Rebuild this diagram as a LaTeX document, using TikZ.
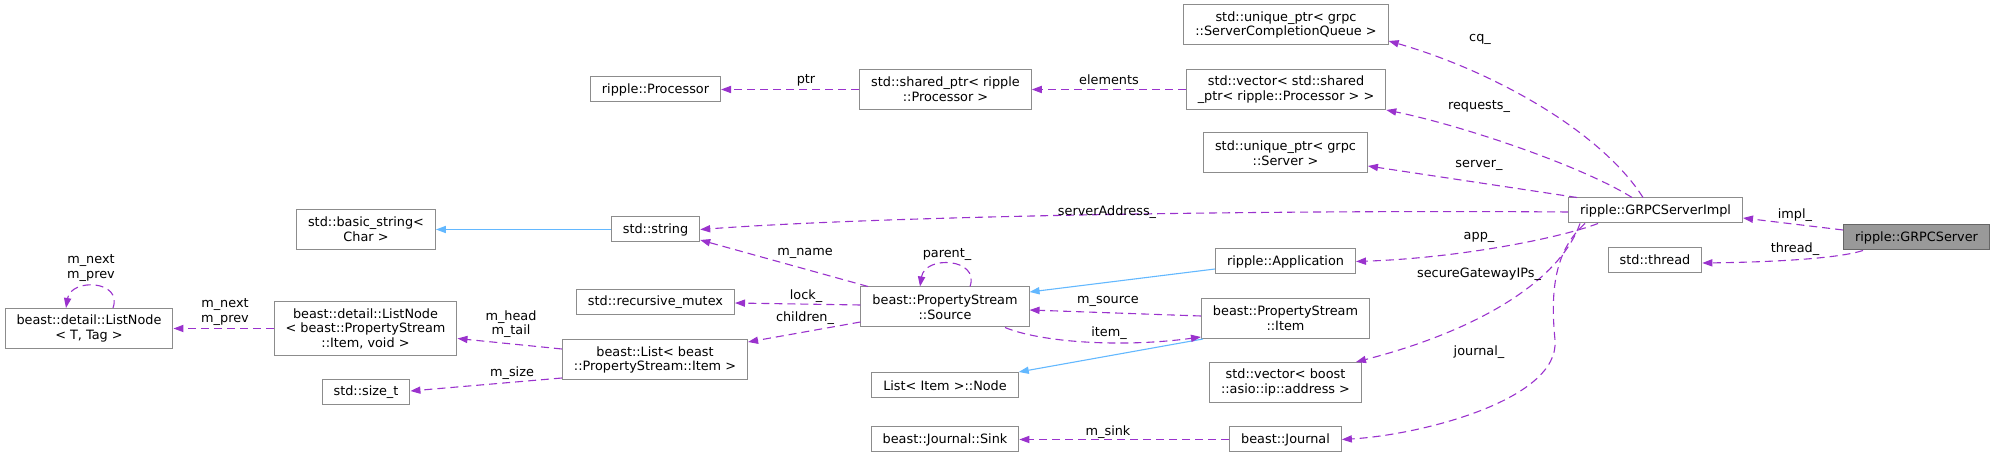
\documentclass[tikz,border=0pt]{standalone}
\usepackage{fontspec}
\setmainfont{DejaVu Sans}
\usetikzlibrary{arrows.meta}
\definecolor{edgepurple}{HTML}{9A32CD}
\definecolor{edgeblue}{HTML}{63B8FF}
\definecolor{boxgray}{HTML}{8C8C8C}
\definecolor{maingray}{HTML}{999999}
\definecolor{mainborder}{HTML}{666666}

\begin{document}
\begin{tikzpicture}[x=0.5pt, y=-0.5pt,
        every node/.style={font=\fontsize{6.42}{7.3}\selectfont},
        cls/.style={draw=boxgray, fill=white, line width=0.5pt, inner xsep=5.75pt, inner ysep=0pt, minimum height=12.5pt, align=center},
        cls2/.style={cls, minimum height=20pt},
        cls3/.style={cls, minimum height=27pt},
        maincls/.style={cls, fill=maingray, draw=mainborder},
        lbl/.style={inner sep=0pt, align=center},
        usage/.style={draw=edgepurple, line width=0.55pt, dash pattern=on 4pt off 2.5pt, -{Triangle[length=5pt,width=3.6pt]}},
        inherit/.style={draw=edgeblue, line width=0.55pt, -{Triangle[length=5pt,width=3.6pt]}}]
        \useasboundingbox (0,0) rectangle (1995,458);
        % CLASSES (right to left)
        \node[maincls] (grpcsrv) at (1916.5,237.5) {ripple::GRPCServer};
        \node[cls] (impl) at (1655.5,210.5) {ripple::GRPCServerImpl};
        \node[cls] (thread) at (1655,260) {std::thread};
        \node[cls2] (cq) at (1286,25) {std::unique\_ptr< grpc\\::ServerCompletionQueue >};
        \node[cls2] (reqvec) at (1286,89.5) {std::vector< std::shared\\\_ptr< ripple::Processor > >};
        \node[cls2] (server) at (1285.5,153) {std::unique\_ptr< grpc\\::Server >};
        \node[cls] (app) at (1285.5,261.5) {ripple::Application};
        \node[cls2] (item) at (1285.5,318.5) {beast::PropertyStream\\::Item};
        \node[cls2] (ipvec) at (1285.5,382.5) {std::vector< boost\\::asio::ip::address >};
        \node[cls] (journal) at (1285.5,439.5) {beast::Journal};
        \node[cls2] (sharedptr) at (945.5,89.5) {std::shared\_ptr< ripple\\::Processor >};
        \node[cls2] (source) at (945,307) {beast::PropertyStream\\::Source};
        \node[cls] (itemnode) at (945,385.5) {List< Item >::Node};
        \node[cls] (sink) at (945,439.5) {beast::Journal::Sink};
        \node[cls] (processor) at (655.5,89.5) {ripple::Processor};
        \node[cls] (strnode) at (655.5,229.5) {std::string};
        \node[cls] (mutex) at (655.5,302) {std::recursive\_mutex};
        \node[cls2] (itemlist) at (655,360) {beast::List< beast\\::PropertyStream::Item >};
        \node[cls2] (basicstr) at (366,229.5) {std::basic\_string<\\Char >};
        \node[cls3] (psnode) at (365.5,328.5) {beast::detail::ListNode\\< beast::PropertyStream\\::Item, void >};
        \node[cls] (sizet) at (366,392) {std::size\_t};
        \node[cls2] (tagnode) at (89,328.5) {beast::detail::ListNode\\< T, Tag >};
        % Inheritance
        \draw[inherit] (strnode.west) -- (basicstr.east);
        \draw[inherit] ([yshift=-3.75pt]app.west) -- ([yshift=7.5pt]source.east);
        \draw[inherit] ([xshift=1pt]item.south west) -- ([yshift=6.75pt]itemnode.east);
        % Members of GRPCServer / GRPCServerImpl
        \coordinate (jbend) at (1555,340);
        \draw[usage] ([yshift=3.75pt]grpcsrv.west) -- ([yshift=-3.75pt]impl.east);
        \draw[usage] ([xshift=-26.75pt]grpcsrv.south) .. controls (1840,258) and (1780,262) .. ([yshift=-1.5pt]thread.east);
        \draw[usage] ([xshift=-6.25pt]impl.north) .. controls (1600,130) and (1490,70) .. ([yshift=-8pt]cq.east);
        \draw[usage] ([xshift=-11.75pt]impl.north) .. controls (1580,165) and (1460,125) .. (reqvec.south east);
        \draw[usage] ([xshift=4.5pt]impl.north west) -- ([yshift=-6.5pt]server.east);
        \draw[usage] ([yshift=-0.75pt]impl.west) .. controls (1300,210) and (900,215) .. (strnode.east);
        \draw[usage] ([xshift=-28.75pt]impl.south) .. controls (1560,238) and (1460,258) .. (app.east);
        \draw[usage] ([xshift=-37.75pt]impl.south) .. controls (1560,280) and (1480,330) .. ([xshift=-3pt]ipvec.north east);
        \draw[usage] ([xshift=-35.25pt]impl.south) .. controls (1555,250) and (1550,290) .. (jbend)
            .. controls (1560,400) and (1420,435) .. (journal.east);
        \draw[usage] (reqvec.west) -- (sharedptr.east);
        \draw[usage] (sharedptr.west) -- (processor.east);
        \draw[usage] (journal.west) -- (sink.east);
        % PropertyStream parts
        \draw[usage] ([xshift=12.5pt]source.north) .. controls (980,258) and (925,255) .. ([xshift=-12.5pt]source.north);
        \draw[usage] ([xshift=-38.5pt]source.north) -- ([yshift=-5.25pt]strnode.east);
        \draw[usage] ([yshift=1pt]source.west) -- ([yshift=-0.5pt]mutex.east);
        \draw[usage] ([yshift=-7.5pt]source.west) -- ([yshift=9pt]itemlist.east);
        \draw[usage] ([yshift=1.25pt]item.west) -- ([yshift=-1.5pt]source.east);
        \draw[usage] ([xshift=30pt]source.south) .. controls (1040,342) and (1120,348) .. ([yshift=-9.25pt]item.west);
        \draw[usage] ([yshift=5.5pt]itemlist.west) -- ([yshift=-5pt]psnode.east);
        \draw[usage] ([yshift=-9pt]itemlist.west) -- ([yshift=0.5pt]sizet.east);
        \draw[usage] (psnode.west) -- (tagnode.east);
        \draw[usage] ([xshift=12pt]tagnode.north) .. controls (123,280) and (71,278) .. ([xshift=-11.5pt]tagnode.north);
        % Edge labels
        \foreach \n/\x/\y/\t in {impl/1795/215/{impl\_}, thread/1795/249/{thread\_},
            cq/1480/39/{cq\_}, requests/1479/107/{requests\_}, server/1479/165/{server\_},
            address/1107/212/{serverAddress\_}, app/1479/237/{app\_},
            gateway/1479/274/{secureGatewayIPs\_}, journal/1479/352/{journal\_},
            elements/1109/80/{elements}, ptr/806/80/{ptr}, parent/947/255/{parent\_},
            name/805/253/{m\_name}, lock/806/296/{lock\_}, children/805/318/{children\_},
            source/1108/301/{m\_source}, item/1109/333/{item\_},
            headtail/511/324/{m\_head\\m\_tail}, size/512/373/{m\_size},
            nextprev/225/312/{m\_next\\m\_prev}, selfnext/91/268/{m\_next\\m\_prev},
            sink/1108/432/{m\_sink}} {
            \node[lbl] (lbl\n) at (\x,\y) {\t};
        }
    \end{tikzpicture}
\end{document}
